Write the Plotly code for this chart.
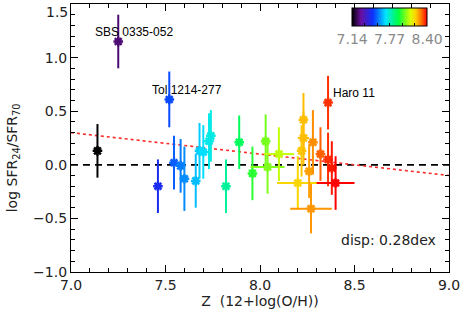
"""SFR24/SFR70 ratio vs metallicity, coloured by metallicity."""

import plotly.graph_objects as go
from plotly.colors import sample_colorscale

# metallicity, log ratio, errors
Z = [7.14, 7.25, 7.46, 7.52, 7.545, 7.58, 7.60, 7.66, 7.68, 7.70, 7.73, 7.74, 7.82, 7.89, 7.96,
     8.03, 8.04, 8.10, 8.20, 8.22, 8.23, 8.23, 8.26, 8.27, 8.28, 8.32, 8.36, 8.36, 8.38, 8.40]
RATIO = [0.13, 1.15, -0.20, 0.61, 0.02, -0.01, -0.13, -0.15, 0.13, 0.12, 0.22, 0.27, -0.20, 0.21, -0.08,
         0.22, -0.02, 0.10, -0.17, 0.13, 0.25, 0.42, -0.06, -0.41, 0.21, 0.10, 0.58, 0.05, -0.03, -0.17]
RATIO_ERR = [0.25, 0.25, 0.25, 0.26, 0.25, 0.25, 0.30, 0.25, 0.26, 0.25, 0.26, 0.24, 0.25, 0.25, 0.25,
             0.25, 0.25, 0.25, 0.25, 0.24, 0.25, 0.25, 0.25, 0.23, 0.30, 0.25, 0.25, 0.25, 0.25, 0.25]
Z_ERR = [0, 0, 0, 0, 0, 0, 0, 0, 0, 0, 0, 0, 0, 0, 0,
         0, 0.09, 0.08, 0.11, 0, 0.03, 0, 0, 0.11, 0, 0, 0, 0, 0, 0.10]

LABELS = ["SBS 0335-052", "Tol 1214-277", "Haro 11"]
LABEL_IDX = [1, 3, 26]

FIT_X = [7.0, 9.0]
FIT_Y = [0.30, -0.10]

Y_TICKS = [-1.0, -0.5, 0.0, 0.5, 1.0, 1.5]
Y_TEXT = ["\u22121.0", "\u22120.5", "0.0", "0.5", "1.0", ""]  # top label drawn separately, below the frame edge

ZMIN, ZMAX = 7.14, 8.40
CBAR_TICKS = [7.14, 7.35, 7.56, 7.77, 7.98, 8.19, 8.40]
CBAR_TEXT = ["7.14", "", "", "7.77", "", "", "8.40"]

RAINBOW = [[0.0, "#000000"], [0.12, "#6a0fa0"], [0.28, "#0a32ff"], [0.45, "#00e5ff"],
           [0.62, "#00ff40"], [0.78, "#d8ff00"], [0.85, "#ffd000"], [0.92, "#ff7a00"], [1.0, "#ff0000"]]

FONT = "DejaVu Sans"
INK = "#222"

fig = go.Figure()

fig.add_hline(y=0, line=dict(color="black", width=1.8, dash="7px,5px"), layer="below")
fig.add_trace(go.Scatter(x=FIT_X, y=FIT_Y, mode="lines", showlegend=False,
                         line=dict(color="#ff2a2a", width=1.6, dash="dot")))

colors = sample_colorscale(RAINBOW, [(z - ZMIN) / (ZMAX - ZMIN) for z in Z])
for z, r, re, ze, c in zip(Z, RATIO, RATIO_ERR, Z_ERR, colors):
    fig.add_trace(go.Scatter(
        x=[z], y=[r], mode="markers", showlegend=False,
        error_y=dict(type="data", array=[re], color=c, thickness=2, width=0),
        error_x=dict(type="data", array=[ze], color=c, thickness=2, width=0, visible=ze > 0),
        marker=dict(symbol="asterisk-open", size=8, color=c, line=dict(color=c, width=2.5)),
    ))

# colour bar
fig.add_trace(go.Scatter(
    x=[None], y=[None], mode="markers", showlegend=False,
    marker=dict(color=[ZMIN], cmin=ZMIN, cmax=ZMAX, colorscale=RAINBOW, showscale=True,
                colorbar=dict(orientation="h", x=0.843, xanchor="center", y=0.986, yanchor="top",
                              len=0.198, lenmode="fraction", thickness=18, thicknessmode="pixels",
                              outlinecolor="black", outlinewidth=1, xpad=0, ypad=0,
                              tickvals=CBAR_TICKS, ticktext=CBAR_TEXT, ticks="inside", ticklen=3,
                              tickcolor="black", tickfont=dict(family=FONT, size=14, color="#8a8a8a"))),
))

LABEL_SHIFT = [(16, 10), (18, 9), (26, 10)]
for name, i, (dx, dy) in zip(LABELS, LABEL_IDX, LABEL_SHIFT):
    fig.add_annotation(x=Z[i], y=RATIO[i], text=name, showarrow=False, xanchor="center",
                       xshift=dx, yshift=dy, font=dict(family="Liberation Sans", size=12, color="black"))

fig.add_annotation(xref="paper", yref="y", x=0, y=Y_TICKS[-1], text=f"{Y_TICKS[-1]:.1f}", showarrow=False,
                   xanchor="right", yanchor="top", xshift=-1, yshift=2,
                   font=dict(family=FONT, size=14, color=INK))
fig.add_annotation(xref="paper", yref="paper", x=0.839, y=0.119, text="disp: 0.28dex", showarrow=False,
                   xanchor="center", yanchor="middle", font=dict(family=FONT, size=14, color=INK))
fig.add_annotation(xref="paper", yref="paper", x=-0.153, y=0.425, textangle=-90, showarrow=False,
                   text="log SFR<sub>24</sub>/SFR<sub>70</sub>", xanchor="center", yanchor="middle",
                   font=dict(family=FONT, size=14, color=INK))

axis = dict(showgrid=False, zeroline=False, showline=True, linecolor="black", linewidth=1.2,
            mirror="ticks", ticks="inside", ticklen=7, tickcolor="black", tickwidth=1,
            ticklabeloverflow="allow", tickfont=dict(family=FONT, size=14, color=INK))
fig.update_xaxes(range=[7.0, 9.0], dtick=0.5, tickformat=".1f",
                 minor=dict(dtick=0.1, ticks="inside", ticklen=4, tickcolor="black"),
                 title=dict(text="Z  (12+log(O/H))", standoff=2, font=dict(family=FONT, size=14, color=INK)),
                 **axis)
fig.update_yaxes(range=[-1.0, 1.5], tickvals=Y_TICKS, ticktext=Y_TEXT,
                 minor=dict(dtick=0.1, ticks="inside", ticklen=4, tickcolor="black"), **axis)

fig.update_layout(width=464, height=320, margin=dict(l=71, r=15, t=4, b=48, autoexpand=False),
                  plot_bgcolor="white", paper_bgcolor="white")
# the page body has a default 8px margin that pushes the figure off the window
fig.write_html("out.html", config={"displayModeBar": False},
               post_script="document.body.style.margin = '0';")
